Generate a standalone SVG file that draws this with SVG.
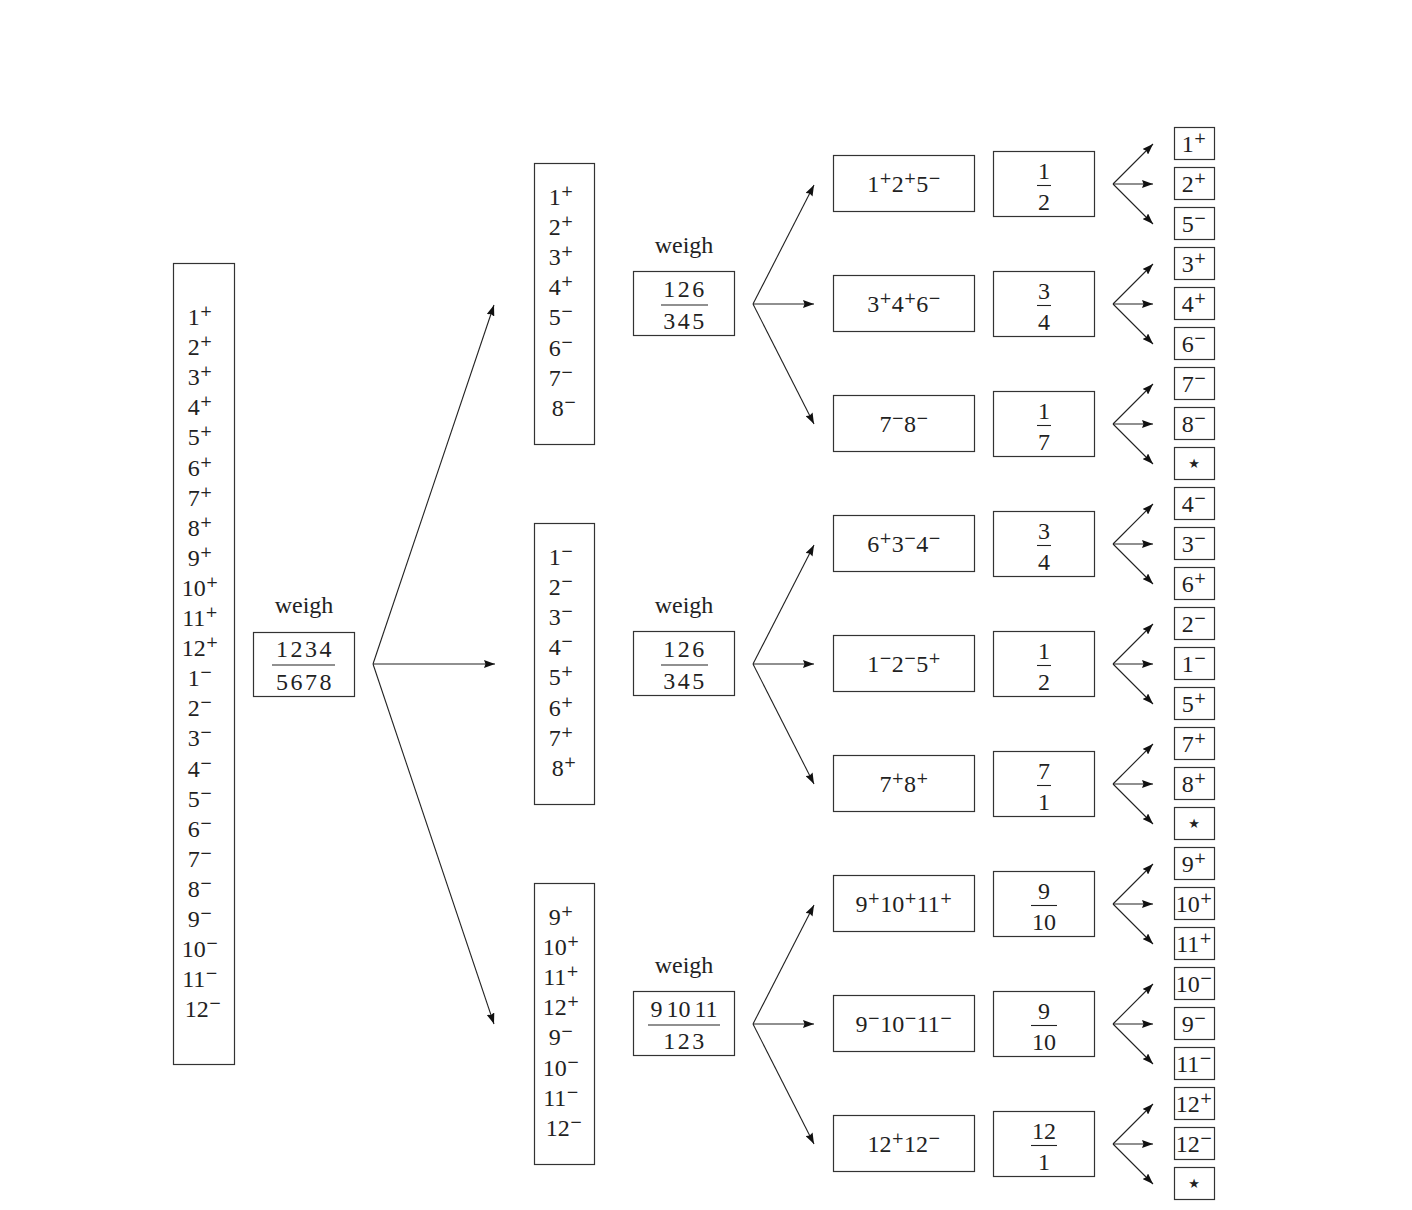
<svg xmlns="http://www.w3.org/2000/svg" width="1412" height="1210" viewBox="0 0 1412 1210">
<style>
.t{font-family:"Liberation Serif","Times New Roman",serif;font-size:24px;fill:#222}
.m{text-anchor:middle}
.s{font-family:"DejaVu Serif",serif;font-size:15px}
.box{fill:none;stroke:#333;stroke-width:1.2}
.ln{stroke:#222;stroke-width:1.1;fill:none}
.fl{stroke:#222;stroke-width:1.1}
.ls{letter-spacing:2.5px}
.star{font-family:"DejaVu Sans",sans-serif;font-size:13px;fill:#222;text-anchor:middle}
</style>
<defs>
<marker id="ah" viewBox="0 0 11 8" refX="11" refY="4" markerWidth="11" markerHeight="8" markerUnits="userSpaceOnUse" orient="auto"><path d="M0,0 L11,4 L0,8 L1.5,4 z" fill="#111"/></marker>
</defs>
<rect width="1412" height="1210" fill="#fff"/>

<g id="all-coins">
<rect class="box" x="173.5" y="263.5" width="61" height="801"/>
<text class="t m">
<tspan x="203" y="325">1<tspan class="s" dy="-9">+</tspan></tspan>
<tspan x="203" y="355.1">2<tspan class="s" dy="-9">+</tspan></tspan>
<tspan x="203" y="385.2">3<tspan class="s" dy="-9">+</tspan></tspan>
<tspan x="203" y="415.3">4<tspan class="s" dy="-9">+</tspan></tspan>
<tspan x="203" y="445.4">5<tspan class="s" dy="-9">+</tspan></tspan>
<tspan x="203" y="475.5">6<tspan class="s" dy="-9">+</tspan></tspan>
<tspan x="203" y="505.6">7<tspan class="s" dy="-9">+</tspan></tspan>
<tspan x="203" y="535.7">8<tspan class="s" dy="-9">+</tspan></tspan>
<tspan x="203" y="565.8">9<tspan class="s" dy="-9">+</tspan></tspan>
<tspan x="203" y="595.9">10<tspan class="s" dy="-9">+</tspan></tspan>
<tspan x="203" y="626">11<tspan class="s" dy="-9">+</tspan></tspan>
<tspan x="203" y="656.1">12<tspan class="s" dy="-9">+</tspan></tspan>
<tspan x="203" y="686.2">1<tspan class="s" dy="-9">−</tspan></tspan>
<tspan x="203" y="716.3">2<tspan class="s" dy="-9">−</tspan></tspan>
<tspan x="203" y="746.4">3<tspan class="s" dy="-9">−</tspan></tspan>
<tspan x="203" y="776.5">4<tspan class="s" dy="-9">−</tspan></tspan>
<tspan x="203" y="806.6">5<tspan class="s" dy="-9">−</tspan></tspan>
<tspan x="203" y="836.7">6<tspan class="s" dy="-9">−</tspan></tspan>
<tspan x="203" y="866.8">7<tspan class="s" dy="-9">−</tspan></tspan>
<tspan x="203" y="896.9">8<tspan class="s" dy="-9">−</tspan></tspan>
<tspan x="203" y="927">9<tspan class="s" dy="-9">−</tspan></tspan>
<tspan x="203" y="957.1">10<tspan class="s" dy="-9">−</tspan></tspan>
<tspan x="203" y="987.2">11<tspan class="s" dy="-9">−</tspan></tspan>
<tspan x="203" y="1017.3">12<tspan class="s" dy="-9">−</tspan></tspan>
</text>
</g>

<g id="weigh-1">
<text class="t m" x="304" y="613">weigh</text>
<rect class="box" x="253.5" y="632.5" width="101" height="64"/>
<text class="t m ls" x="305" y="657">1234</text>
<line class="fl" x1="272" y1="665" x2="335" y2="665"/>
<text class="t m ls" x="305" y="690">5678</text>
</g>

<g id="set-a">
<rect class="box" x="534.5" y="163.5" width="60" height="281"/>
<text class="t m">
<tspan x="564" y="205">1<tspan class="s" dy="-9">+</tspan></tspan>
<tspan x="564" y="235.1">2<tspan class="s" dy="-9">+</tspan></tspan>
<tspan x="564" y="265.2">3<tspan class="s" dy="-9">+</tspan></tspan>
<tspan x="564" y="295.3">4<tspan class="s" dy="-9">+</tspan></tspan>
<tspan x="564" y="325.4">5<tspan class="s" dy="-9">−</tspan></tspan>
<tspan x="564" y="355.5">6<tspan class="s" dy="-9">−</tspan></tspan>
<tspan x="564" y="385.6">7<tspan class="s" dy="-9">−</tspan></tspan>
<tspan x="564" y="415.7">8<tspan class="s" dy="-9">−</tspan></tspan>
</text>
</g>
<g id="set-b">
<rect class="box" x="534.5" y="523.5" width="60" height="281"/>
<text class="t m">
<tspan x="564" y="565">1<tspan class="s" dy="-9">−</tspan></tspan>
<tspan x="564" y="595.1">2<tspan class="s" dy="-9">−</tspan></tspan>
<tspan x="564" y="625.2">3<tspan class="s" dy="-9">−</tspan></tspan>
<tspan x="564" y="655.3">4<tspan class="s" dy="-9">−</tspan></tspan>
<tspan x="564" y="685.4">5<tspan class="s" dy="-9">+</tspan></tspan>
<tspan x="564" y="715.5">6<tspan class="s" dy="-9">+</tspan></tspan>
<tspan x="564" y="745.6">7<tspan class="s" dy="-9">+</tspan></tspan>
<tspan x="564" y="775.7">8<tspan class="s" dy="-9">+</tspan></tspan>
</text>
</g>
<g id="set-c">
<rect class="box" x="534.5" y="883.5" width="60" height="281"/>
<text class="t m">
<tspan x="564" y="925">9<tspan class="s" dy="-9">+</tspan></tspan>
<tspan x="564" y="955.1">10<tspan class="s" dy="-9">+</tspan></tspan>
<tspan x="564" y="985.2">11<tspan class="s" dy="-9">+</tspan></tspan>
<tspan x="564" y="1015.3">12<tspan class="s" dy="-9">+</tspan></tspan>
<tspan x="564" y="1045.4">9<tspan class="s" dy="-9">−</tspan></tspan>
<tspan x="564" y="1075.5">10<tspan class="s" dy="-9">−</tspan></tspan>
<tspan x="564" y="1105.6">11<tspan class="s" dy="-9">−</tspan></tspan>
<tspan x="564" y="1135.7">12<tspan class="s" dy="-9">−</tspan></tspan>
</text>
</g>

<g id="weigh-2a">
<text class="t m" x="684" y="253">weigh</text>
<rect class="box" x="633.5" y="271.5" width="101" height="64"/>
<text class="t m ls" x="685" y="297">126</text>
<line class="fl" x1="661" y1="305" x2="708" y2="305"/>
<text class="t m ls" x="685" y="329">345</text>
</g>
<g id="weigh-2b">
<text class="t m" x="684" y="613">weigh</text>
<rect class="box" x="633.5" y="631.5" width="101" height="64"/>
<text class="t m ls" x="685" y="657">126</text>
<line class="fl" x1="661" y1="665" x2="708" y2="665"/>
<text class="t m ls" x="685" y="689">345</text>
</g>
<g id="weigh-2c">
<text class="t m" x="684" y="973">weigh</text>
<rect class="box" x="633.5" y="991.5" width="101" height="64"/>
<text class="t m" x="684" y="1017" style="word-spacing:-2px">9 10 11</text>
<line class="fl" x1="648" y1="1025" x2="720" y2="1025"/>
<text class="t m ls" x="685" y="1049">123</text>
</g>

<g id="cand-0"><rect class="box" x="833.5" y="155.5" width="141" height="56"/><text class="t m" x="904" y="192">1<tspan class="s" dy="-9">+</tspan><tspan dy="9">2</tspan><tspan class="s" dy="-9">+</tspan><tspan dy="9">5</tspan><tspan class="s" dy="-9">−</tspan></text></g>
<g id="cand-1"><rect class="box" x="833.5" y="275.5" width="141" height="56"/><text class="t m" x="904" y="312">3<tspan class="s" dy="-9">+</tspan><tspan dy="9">4</tspan><tspan class="s" dy="-9">+</tspan><tspan dy="9">6</tspan><tspan class="s" dy="-9">−</tspan></text></g>
<g id="cand-2"><rect class="box" x="833.5" y="395.5" width="141" height="56"/><text class="t m" x="904" y="432">7<tspan class="s" dy="-9">−</tspan><tspan dy="9">8</tspan><tspan class="s" dy="-9">−</tspan></text></g>
<g id="cand-3"><rect class="box" x="833.5" y="515.5" width="141" height="56"/><text class="t m" x="904" y="552">6<tspan class="s" dy="-9">+</tspan><tspan dy="9">3</tspan><tspan class="s" dy="-9">−</tspan><tspan dy="9">4</tspan><tspan class="s" dy="-9">−</tspan></text></g>
<g id="cand-4"><rect class="box" x="833.5" y="635.5" width="141" height="56"/><text class="t m" x="904" y="672">1<tspan class="s" dy="-9">−</tspan><tspan dy="9">2</tspan><tspan class="s" dy="-9">−</tspan><tspan dy="9">5</tspan><tspan class="s" dy="-9">+</tspan></text></g>
<g id="cand-5"><rect class="box" x="833.5" y="755.5" width="141" height="56"/><text class="t m" x="904" y="792">7<tspan class="s" dy="-9">+</tspan><tspan dy="9">8</tspan><tspan class="s" dy="-9">+</tspan></text></g>
<g id="cand-6"><rect class="box" x="833.5" y="875.5" width="141" height="56"/><text class="t m" x="904" y="912">9<tspan class="s" dy="-9">+</tspan><tspan dy="9">10</tspan><tspan class="s" dy="-9">+</tspan><tspan dy="9">11</tspan><tspan class="s" dy="-9">+</tspan></text></g>
<g id="cand-7"><rect class="box" x="833.5" y="995.5" width="141" height="56"/><text class="t m" x="904" y="1032">9<tspan class="s" dy="-9">−</tspan><tspan dy="9">10</tspan><tspan class="s" dy="-9">−</tspan><tspan dy="9">11</tspan><tspan class="s" dy="-9">−</tspan></text></g>
<g id="cand-8"><rect class="box" x="833.5" y="1115.5" width="141" height="56"/><text class="t m" x="904" y="1152">12<tspan class="s" dy="-9">+</tspan><tspan dy="9">12</tspan><tspan class="s" dy="-9">−</tspan></text></g>

<g id="frac-0"><rect class="box" x="993.5" y="151.5" width="101" height="65"/><text class="t m" x="1044" y="179">1</text><line class="fl" x1="1037" y1="185.5" x2="1051" y2="185.5"/><text class="t m" x="1044" y="210">2</text></g>
<g id="frac-1"><rect class="box" x="993.5" y="271.5" width="101" height="65"/><text class="t m" x="1044" y="299">3</text><line class="fl" x1="1037" y1="305.5" x2="1051" y2="305.5"/><text class="t m" x="1044" y="330">4</text></g>
<g id="frac-2"><rect class="box" x="993.5" y="391.5" width="101" height="65"/><text class="t m" x="1044" y="419">1</text><line class="fl" x1="1037" y1="425.5" x2="1051" y2="425.5"/><text class="t m" x="1044" y="450">7</text></g>
<g id="frac-3"><rect class="box" x="993.5" y="511.5" width="101" height="65"/><text class="t m" x="1044" y="539">3</text><line class="fl" x1="1037" y1="545.5" x2="1051" y2="545.5"/><text class="t m" x="1044" y="570">4</text></g>
<g id="frac-4"><rect class="box" x="993.5" y="631.5" width="101" height="65"/><text class="t m" x="1044" y="659">1</text><line class="fl" x1="1037" y1="665.5" x2="1051" y2="665.5"/><text class="t m" x="1044" y="690">2</text></g>
<g id="frac-5"><rect class="box" x="993.5" y="751.5" width="101" height="65"/><text class="t m" x="1044" y="779">7</text><line class="fl" x1="1037" y1="785.5" x2="1051" y2="785.5"/><text class="t m" x="1044" y="810">1</text></g>
<g id="frac-6"><rect class="box" x="993.5" y="871.5" width="101" height="65"/><text class="t m" x="1044" y="899">9</text><line class="fl" x1="1031" y1="905.5" x2="1057" y2="905.5"/><text class="t m" x="1044" y="930">10</text></g>
<g id="frac-7"><rect class="box" x="993.5" y="991.5" width="101" height="65"/><text class="t m" x="1044" y="1019">9</text><line class="fl" x1="1031" y1="1025.5" x2="1057" y2="1025.5"/><text class="t m" x="1044" y="1050">10</text></g>
<g id="frac-8"><rect class="box" x="993.5" y="1111.5" width="101" height="65"/><text class="t m" x="1044" y="1139">12</text><line class="fl" x1="1031" y1="1145.5" x2="1057" y2="1145.5"/><text class="t m" x="1044" y="1170">1</text></g>

<g id="leaves">
<g id="leaf-0"><rect class="box" x="1174.5" y="127.5" width="40" height="32"/><text class="t m" x="1194" y="152">1<tspan class="s" dy="-9">+</tspan></text></g>
<g id="leaf-1"><rect class="box" x="1174.5" y="167.5" width="40" height="32"/><text class="t m" x="1194" y="192">2<tspan class="s" dy="-9">+</tspan></text></g>
<g id="leaf-2"><rect class="box" x="1174.5" y="207.5" width="40" height="32"/><text class="t m" x="1194" y="232">5<tspan class="s" dy="-9">−</tspan></text></g>
<g id="leaf-3"><rect class="box" x="1174.5" y="247.5" width="40" height="32"/><text class="t m" x="1194" y="272">3<tspan class="s" dy="-9">+</tspan></text></g>
<g id="leaf-4"><rect class="box" x="1174.5" y="287.5" width="40" height="32"/><text class="t m" x="1194" y="312">4<tspan class="s" dy="-9">+</tspan></text></g>
<g id="leaf-5"><rect class="box" x="1174.5" y="327.5" width="40" height="32"/><text class="t m" x="1194" y="352">6<tspan class="s" dy="-9">−</tspan></text></g>
<g id="leaf-6"><rect class="box" x="1174.5" y="367.5" width="40" height="32"/><text class="t m" x="1194" y="392">7<tspan class="s" dy="-9">−</tspan></text></g>
<g id="leaf-7"><rect class="box" x="1174.5" y="407.5" width="40" height="32"/><text class="t m" x="1194" y="432">8<tspan class="s" dy="-9">−</tspan></text></g>
<g id="leaf-8"><rect class="box" x="1174.5" y="447.5" width="40" height="32"/><text class="star" x="1194" y="468">★</text></g>
<g id="leaf-9"><rect class="box" x="1174.5" y="487.5" width="40" height="32"/><text class="t m" x="1194" y="512">4<tspan class="s" dy="-9">−</tspan></text></g>
<g id="leaf-10"><rect class="box" x="1174.5" y="527.5" width="40" height="32"/><text class="t m" x="1194" y="552">3<tspan class="s" dy="-9">−</tspan></text></g>
<g id="leaf-11"><rect class="box" x="1174.5" y="567.5" width="40" height="32"/><text class="t m" x="1194" y="592">6<tspan class="s" dy="-9">+</tspan></text></g>
<g id="leaf-12"><rect class="box" x="1174.5" y="607.5" width="40" height="32"/><text class="t m" x="1194" y="632">2<tspan class="s" dy="-9">−</tspan></text></g>
<g id="leaf-13"><rect class="box" x="1174.5" y="647.5" width="40" height="32"/><text class="t m" x="1194" y="672">1<tspan class="s" dy="-9">−</tspan></text></g>
<g id="leaf-14"><rect class="box" x="1174.5" y="687.5" width="40" height="32"/><text class="t m" x="1194" y="712">5<tspan class="s" dy="-9">+</tspan></text></g>
<g id="leaf-15"><rect class="box" x="1174.5" y="727.5" width="40" height="32"/><text class="t m" x="1194" y="752">7<tspan class="s" dy="-9">+</tspan></text></g>
<g id="leaf-16"><rect class="box" x="1174.5" y="767.5" width="40" height="32"/><text class="t m" x="1194" y="792">8<tspan class="s" dy="-9">+</tspan></text></g>
<g id="leaf-17"><rect class="box" x="1174.5" y="807.5" width="40" height="32"/><text class="star" x="1194" y="828">★</text></g>
<g id="leaf-18"><rect class="box" x="1174.5" y="847.5" width="40" height="32"/><text class="t m" x="1194" y="872">9<tspan class="s" dy="-9">+</tspan></text></g>
<g id="leaf-19"><rect class="box" x="1174.5" y="887.5" width="40" height="32"/><text class="t m" x="1194" y="912">10<tspan class="s" dy="-9">+</tspan></text></g>
<g id="leaf-20"><rect class="box" x="1174.5" y="927.5" width="40" height="32"/><text class="t m" x="1194" y="952">11<tspan class="s" dy="-9">+</tspan></text></g>
<g id="leaf-21"><rect class="box" x="1174.5" y="967.5" width="40" height="32"/><text class="t m" x="1194" y="992">10<tspan class="s" dy="-9">−</tspan></text></g>
<g id="leaf-22"><rect class="box" x="1174.5" y="1007.5" width="40" height="32"/><text class="t m" x="1194" y="1032">9<tspan class="s" dy="-9">−</tspan></text></g>
<g id="leaf-23"><rect class="box" x="1174.5" y="1047.5" width="40" height="32"/><text class="t m" x="1194" y="1072">11<tspan class="s" dy="-9">−</tspan></text></g>
<g id="leaf-24"><rect class="box" x="1174.5" y="1087.5" width="40" height="32"/><text class="t m" x="1194" y="1112">12<tspan class="s" dy="-9">+</tspan></text></g>
<g id="leaf-25"><rect class="box" x="1174.5" y="1127.5" width="40" height="32"/><text class="t m" x="1194" y="1152">12<tspan class="s" dy="-9">−</tspan></text></g>
<g id="leaf-26"><rect class="box" x="1174.5" y="1167.5" width="40" height="32"/><text class="star" x="1194" y="1188">★</text></g>
</g>

<g id="connectors" class="ln" marker-end="url(#ah)">
<line x1="373" y1="664" x2="494" y2="305"/>
<line x1="373" y1="664" x2="495" y2="664"/>
<line x1="373" y1="664" x2="494" y2="1024"/>

<line x1="753" y1="304" x2="814" y2="185"/>
<line x1="753" y1="304" x2="814" y2="304"/>
<line x1="753" y1="304" x2="814" y2="424"/>
<line x1="753" y1="664" x2="814" y2="545"/>
<line x1="753" y1="664" x2="814" y2="664"/>
<line x1="753" y1="664" x2="814" y2="784"/>
<line x1="753" y1="1024" x2="814" y2="905"/>
<line x1="753" y1="1024" x2="814" y2="1024"/>
<line x1="753" y1="1024" x2="814" y2="1144"/>

<line x1="1113" y1="184" x2="1153" y2="144"/><line x1="1113" y1="184" x2="1153" y2="184"/><line x1="1113" y1="184" x2="1153" y2="224"/>
<line x1="1113" y1="304" x2="1153" y2="264"/><line x1="1113" y1="304" x2="1153" y2="304"/><line x1="1113" y1="304" x2="1153" y2="344"/>
<line x1="1113" y1="424" x2="1153" y2="384"/><line x1="1113" y1="424" x2="1153" y2="424"/><line x1="1113" y1="424" x2="1153" y2="464"/>
<line x1="1113" y1="544" x2="1153" y2="504"/><line x1="1113" y1="544" x2="1153" y2="544"/><line x1="1113" y1="544" x2="1153" y2="584"/>
<line x1="1113" y1="664" x2="1153" y2="624"/><line x1="1113" y1="664" x2="1153" y2="664"/><line x1="1113" y1="664" x2="1153" y2="704"/>
<line x1="1113" y1="784" x2="1153" y2="744"/><line x1="1113" y1="784" x2="1153" y2="784"/><line x1="1113" y1="784" x2="1153" y2="824"/>
<line x1="1113" y1="904" x2="1153" y2="864"/><line x1="1113" y1="904" x2="1153" y2="904"/><line x1="1113" y1="904" x2="1153" y2="944"/>
<line x1="1113" y1="1024" x2="1153" y2="984"/><line x1="1113" y1="1024" x2="1153" y2="1024"/><line x1="1113" y1="1024" x2="1153" y2="1064"/>
<line x1="1113" y1="1144" x2="1153" y2="1104"/><line x1="1113" y1="1144" x2="1153" y2="1144"/><line x1="1113" y1="1144" x2="1153" y2="1184"/>
</g>
</svg>
